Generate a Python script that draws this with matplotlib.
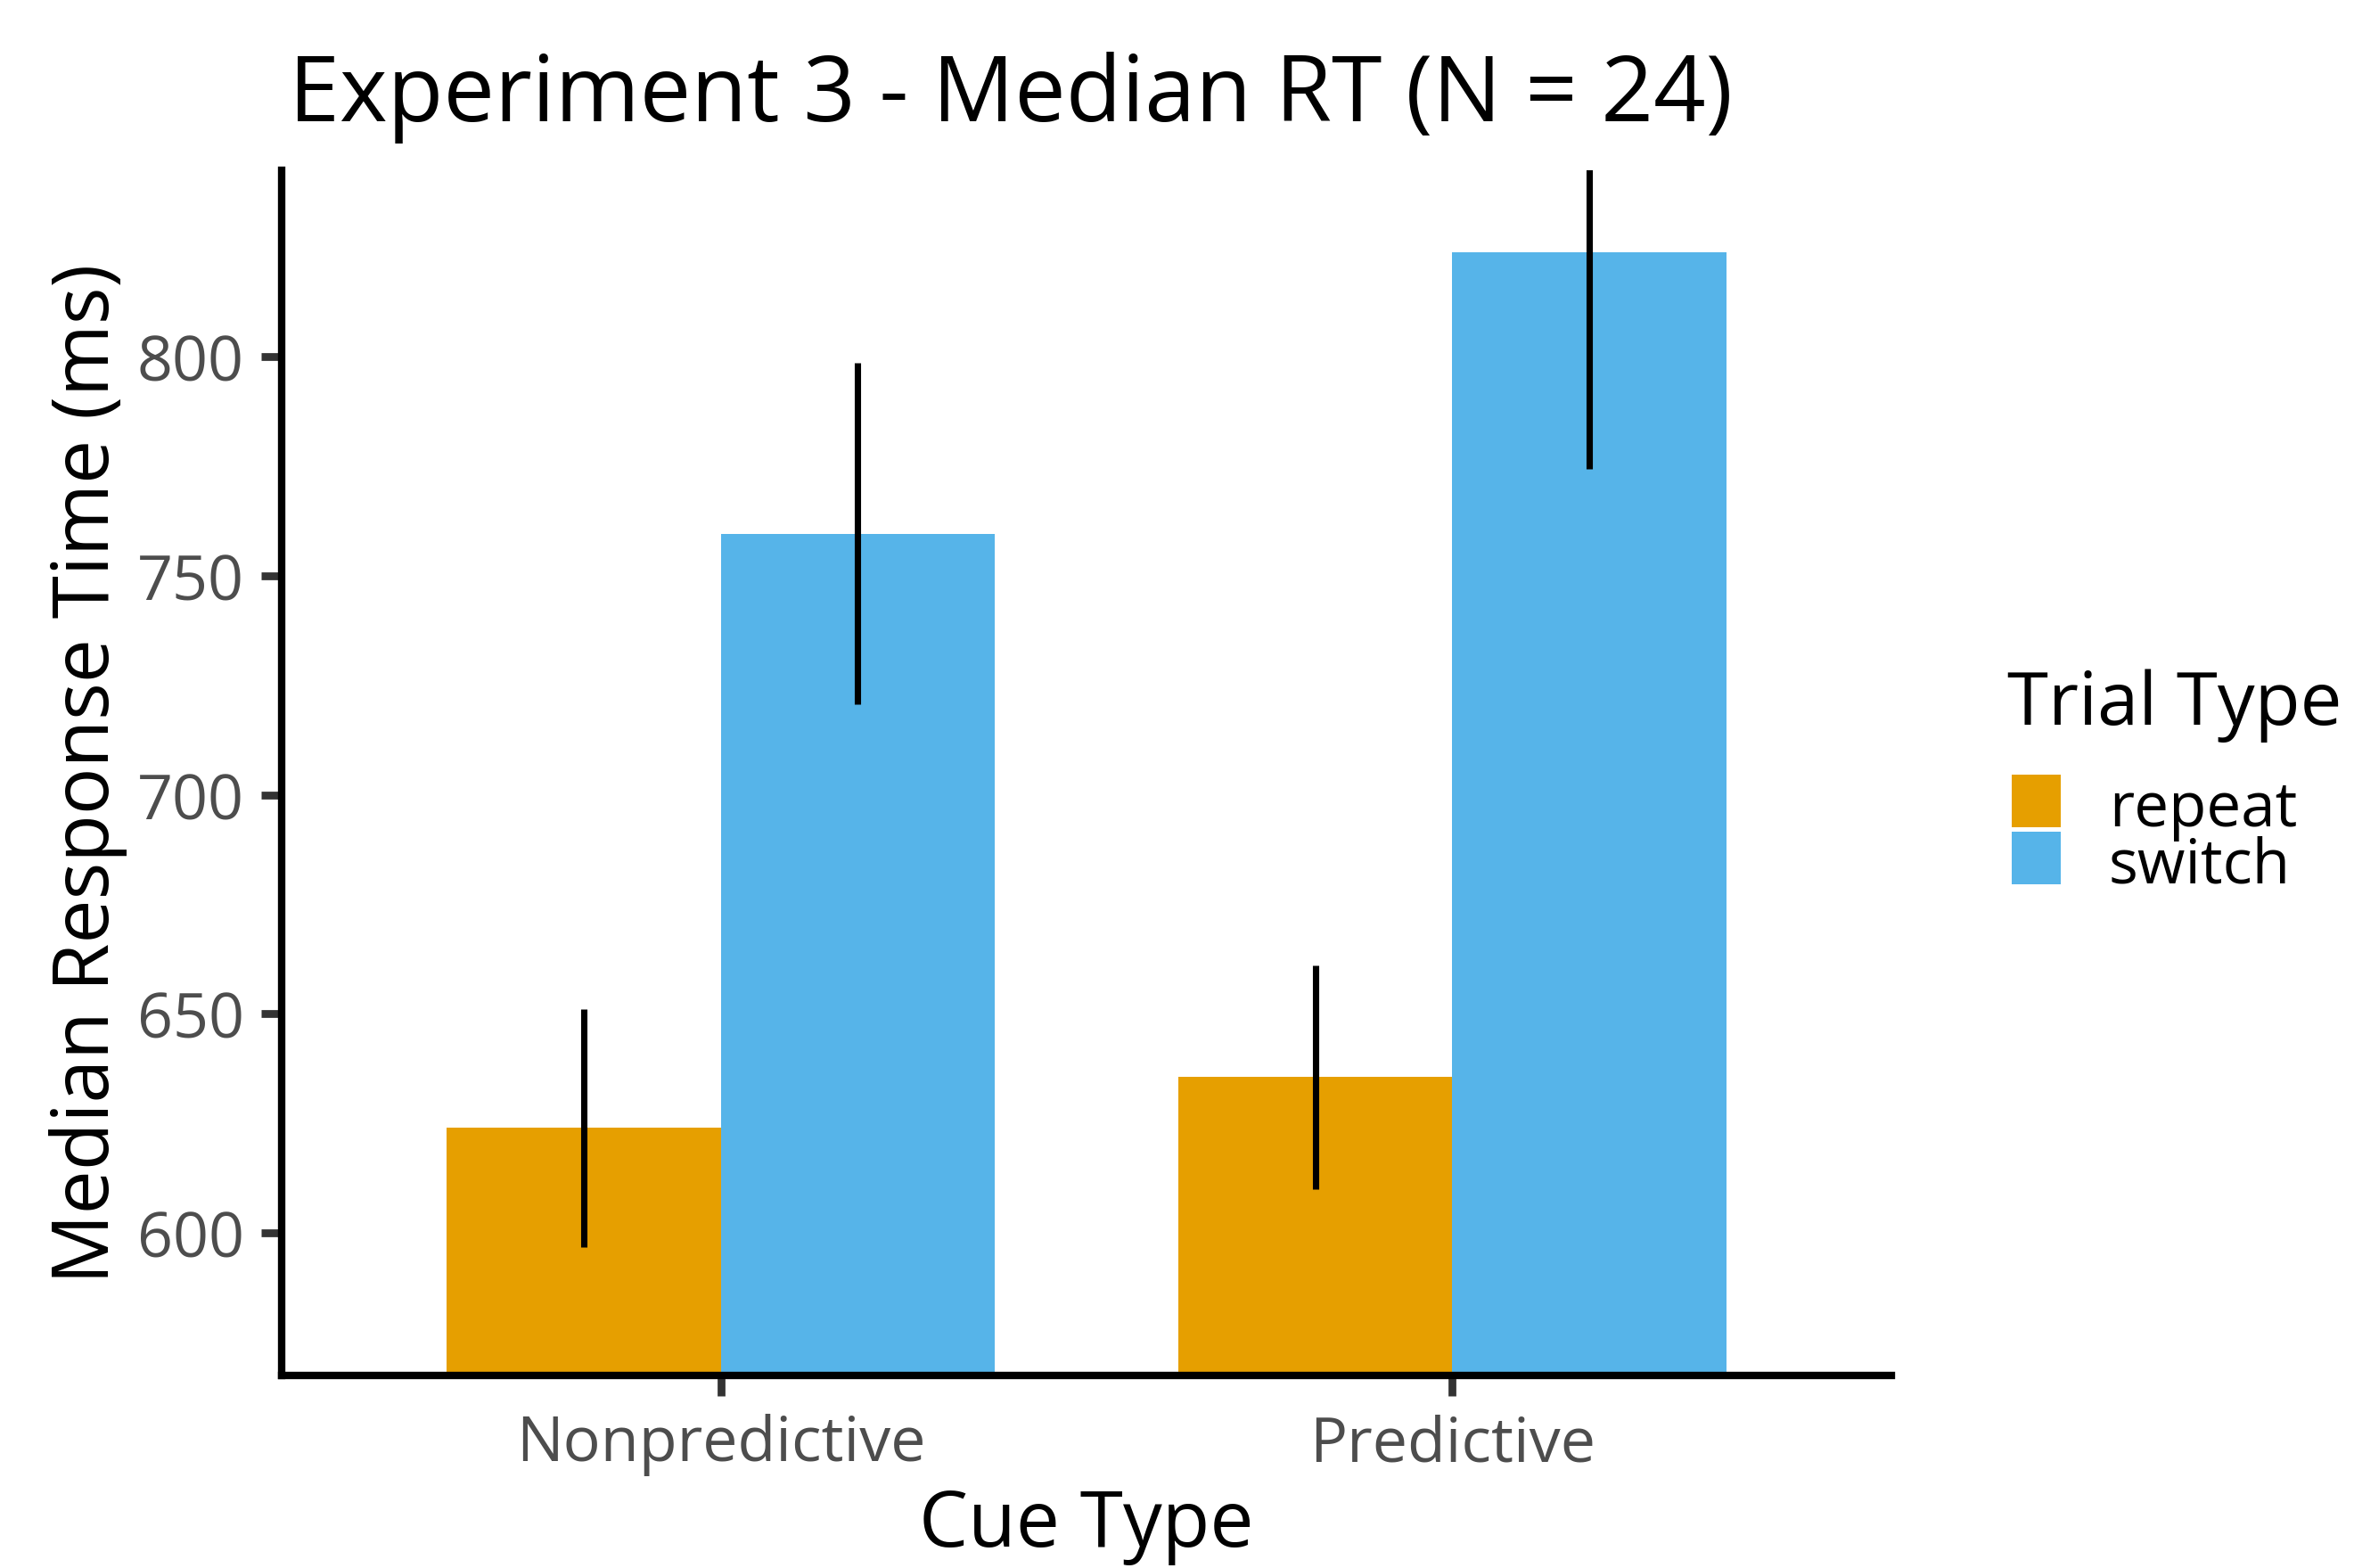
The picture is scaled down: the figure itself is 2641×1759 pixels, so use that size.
import numpy as np
import matplotlib
matplotlib.use("Agg")
import matplotlib.pyplot as plt
from matplotlib.patches import Rectangle

# --- data ---
cue_types = ["Nonpredictive", "Predictive"]
trial_types = ["repeat", "switch"]
median_rt = {
    "repeat": [624.0, 635.6],
    "switch": [759.6, 823.8],
}
rt_error = {
    "repeat": [27.2, 25.5],
    "switch": [39.0, 49.4],
}
y_ticks = [600, 650, 700, 750, 800]
colors = {"repeat": "#E69F00", "switch": "#56B4E9"}

plt.rcParams["font.family"] = ["Open Sans", "DejaVu Sans"]

W, H = 2641, 1760
fig = plt.figure(figsize=(W / 300, H / 300), dpi=300)

# panel placement in pixels
left, right, top, bottom = 316, 2122, 192, 1544
ax = fig.add_axes([left / W, 1 - bottom / H, (right - left) / W, (bottom - top) / H])

x = np.arange(1, len(cue_types) + 1)
bar_w = 0.375
for i, tt in enumerate(trial_types):
    xpos = x + (i - 0.5) * bar_w
    ax.bar(xpos, median_rt[tt], width=bar_w, bottom=0, color=colors[tt],
           zorder=2, linewidth=0)
    ax.errorbar(xpos, median_rt[tt], yerr=rt_error[tt], fmt="none",
                ecolor="black", elinewidth=1.7, capsize=0, zorder=3)

ax.set_xlim(0.4, 2.6)
ax.set_ylim(567.5, 842.5)
ax.set_xticks(x)
ax.set_xticklabels(cue_types)
ax.set_yticks(y_ticks)

for s in ["top", "right"]:
    ax.spines[s].set_visible(False)
for s in ["left", "bottom"]:
    ax.spines[s].set_linewidth(2.0)
    ax.spines[s].set_color("black")
    ax.spines[s].set_zorder(4)

ax.tick_params(axis="both", length=5.6, width=2.1, color="#333333",
               labelcolor="#4D4D4D", labelsize=16.8, pad=4.5)

# title and axis titles
fig.text(324 / W, 1 - 136 / H, "Experiment 3 - Median RT (N = 24)",
         fontsize=24.6, ha="left", va="baseline", color="black")
fig.text((left + right) / 2 / W, 1 - 1735 / H, "Cue Type",
         fontsize=21, ha="center", va="baseline", color="black")
fig.text(99 / W, 1 - 868 / H, "Median Response Time (ms)",
         fontsize=21, ha="center", va="center", rotation=90, color="black")

# legend drawn by hand to match the key geometry
fig.text(2252 / W, 1 - 813 / H, "Trial Type", fontsize=20,
         ha="left", va="baseline", color="black")
key_top = 870
for j, tt in enumerate(trial_types):
    y0 = key_top + j * 64
    fig.add_artist(Rectangle((2257 / W, 1 - (y0 + 59) / H), 55 / W, 59 / H,
                             transform=fig.transFigure, color=colors[tt], lw=0))
    fig.text(2366 / W, 1 - (y0 + 57) / H, tt, fontsize=16.6,
             ha="left", va="baseline", color="black")

fig.savefig("out.png", dpi=300)
